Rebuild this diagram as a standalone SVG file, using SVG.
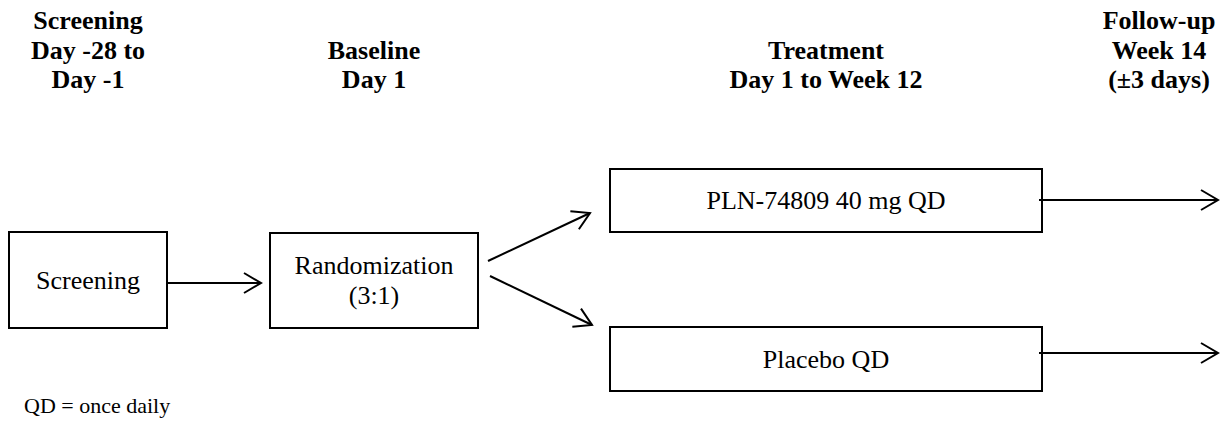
<svg xmlns="http://www.w3.org/2000/svg" width="1227" height="423" viewBox="0 0 1227 423">
<defs>
<style>
.h{font-family:"Liberation Serif","Times New Roman",serif;font-weight:bold;font-size:26px;text-anchor:middle;fill:#000}
.t{font-family:"Liberation Serif","Times New Roman",serif;font-size:26px;text-anchor:middle;fill:#000}
.n{font-family:"Liberation Serif","Times New Roman",serif;font-size:22px;fill:#000}
.box{fill:#fff;stroke:#000;stroke-width:2}
.c{fill:none;stroke:#000;stroke-width:2}
</style>
<marker id="ah" viewBox="0 0 20 22" refX="18" refY="11" markerWidth="20" markerHeight="22" markerUnits="userSpaceOnUse" orient="auto">
<path d="M1,1 L18,11 L1,21" fill="none" stroke="#000" stroke-width="2"/>
</marker>
</defs>
<rect width="1227" height="423" fill="#fff"/>
<g id="headers">
<text class="h" x="88" y="29">Screening</text>
<text class="h" x="88" y="59">Day -28 to</text>
<text class="h" x="88" y="88">Day -1</text>
<text class="h" x="374" y="59">Baseline</text>
<text class="h" x="374" y="88">Day 1</text>
<text class="h" x="826" y="59">Treatment</text>
<text class="h" x="826" y="88">Day 1 to Week 12</text>
<text class="h" x="1159" y="29">Follow-up</text>
<text class="h" x="1159" y="59">Week 14</text>
<text class="h" x="1159" y="88">(±3 days)</text>
</g>
<g id="node-screening">
<rect class="box" x="9" y="232" width="158" height="96"/>
<text class="t" x="88" y="289">Screening</text>
</g>
<g id="node-randomization">
<rect class="box" x="270" y="233" width="208" height="95"/>
<text class="t" x="374" y="274">Randomization</text>
<text class="t" x="374" y="304">(3:1)</text>
</g>
<g id="node-active">
<rect class="box" x="610" y="169" width="432" height="63"/>
<text class="t" x="826" y="209">PLN-74809 40 mg QD</text>
</g>
<g id="node-placebo">
<rect class="box" x="610" y="327" width="432" height="64"/>
<text class="t" x="826" y="368">Placebo QD</text>
</g>
<g id="connectors">
<line class="c" x1="168" y1="283" x2="261" y2="283" marker-end="url(#ah)"/>
<line class="c" x1="488" y1="261" x2="590" y2="213" marker-end="url(#ah)"/>
<line class="c" x1="490" y1="276" x2="592" y2="325" marker-end="url(#ah)"/>
<line class="c" x1="1039" y1="200" x2="1218" y2="200" marker-end="url(#ah)"/>
<line class="c" x1="1039" y1="353" x2="1218" y2="353" marker-end="url(#ah)"/>
</g>
<text class="n" x="24" y="413">QD = once daily</text>
</svg>
